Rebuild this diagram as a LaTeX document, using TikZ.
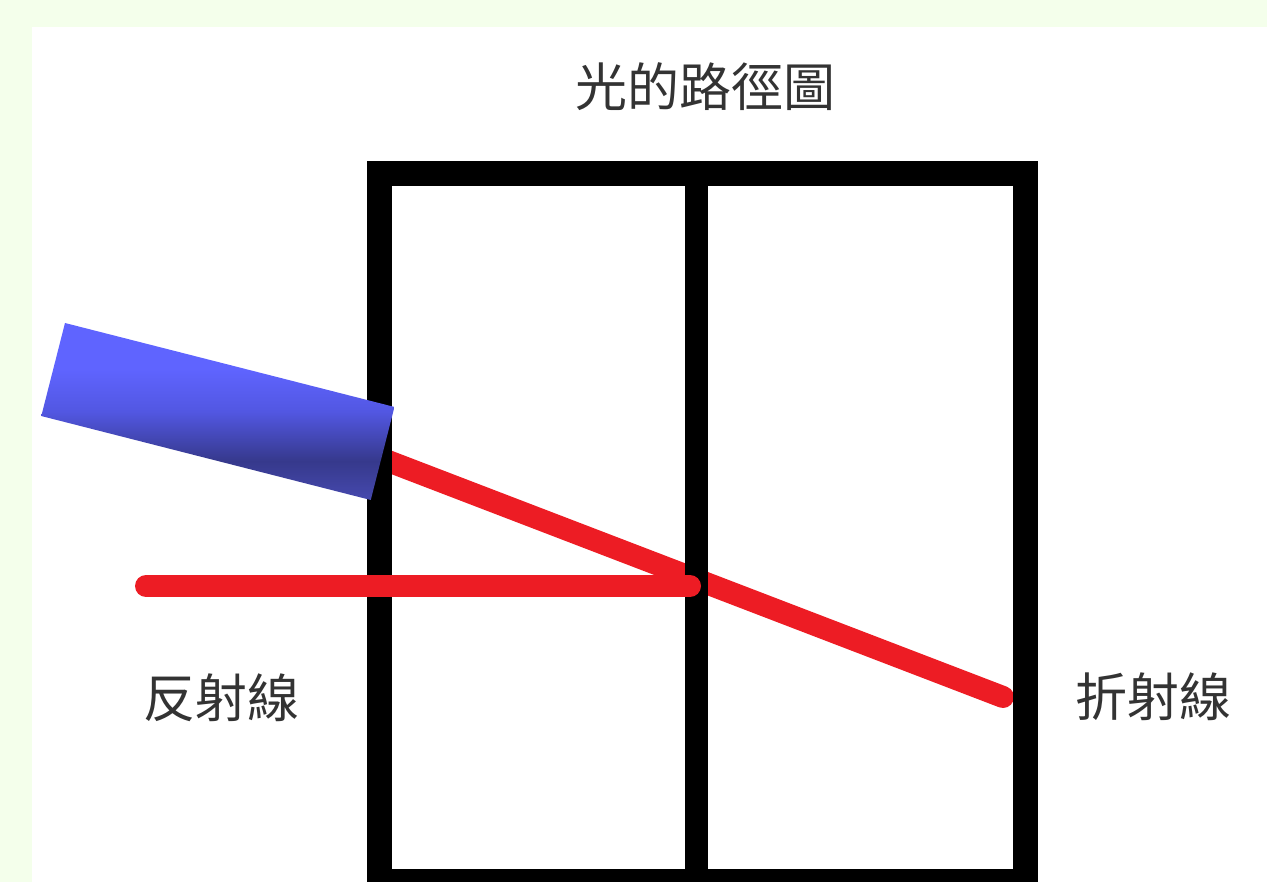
\documentclass[tikz,border=0pt]{standalone}
\usepackage{fontspec}
\newfontfamily\cjk{Noto Sans CJK TC}
\definecolor{pagebg}{HTML}{F4FFEB}
\definecolor{ray}{HTML}{ED1C24}
\definecolor{labelink}{HTML}{333333}
\definecolor{tubeL}{HTML}{5F64FF}
\definecolor{tubeM}{HTML}{5257E2}
\definecolor{tubeD}{HTML}{36398C}
\definecolor{tubeB}{HTML}{4649AE}
% the filled path covers the 25bp--75bp band of the shading
\pgfdeclareverticalshading{tube}{100bp}{color(0bp)=(tubeB); color(25bp)=(tubeB); color(36bp)=(tubeD); color(50bp)=(tubeM); color(62bp)=(tubeL); color(75bp)=(tubeL); color(100bp)=(tubeL)}
\tikzset{
  label text/.style={font=\cjk\fontsize{52}{60}\selectfont, text=labelink, inner sep=0pt},
  frame/.style={line width=25pt, line join=miter, draw=black},
  divider/.style={line width=23pt, draw=black},
  beam/.style={line width=22pt, draw=ray, line cap=round},
}
\begin{document}
\begin{tikzpicture}[x=1pt, y=-1pt]
  \useasboundingbox (0,0) rectangle (1267,882);
  \clip (0,0) rectangle (1267,882);
  % page background and white panel
  \fill[pagebg] (0,0) rectangle (1267,882);
  \fill[white] (32,27) rectangle (1267,882);

  % title
  \node[label text] (title) at (705,87) {光的路徑圖};

  % light path: incident ray continuing as the refracted ray
  \coordinate (src) at (380,458);
  \coordinate (hit) at (690,586);
  \coordinate (refr) at (1003,697);
  \coordinate (refl) at (146,586);
  \draw[beam] (src) -- (refr);

  % glass block with the interface in the middle
  \coordinate (tl) at (379.5,174);
  \coordinate (br) at (1025.5,881);
  \draw[frame] (tl) rectangle (br);
  \coordinate (divtop) at (696.5,174);
  \coordinate (divbot) at (696.5,881);
  \draw[divider] (divtop) -- (divbot);

  % reflected ray
  \draw[beam] (hit) -- (refl);

  % light source (tube)
  \begin{scope}[shift={(65,323)}, rotate=-14.3]
    \shade[shading=tube] (0,0) rectangle (340,96);
  \end{scope}

  % labels
  \node[label text] (reflLabel) at (221,698) {反射線};
  \node[label text] (refrLabel) at (1153,697) {折射線};
\end{tikzpicture}
\end{document}
